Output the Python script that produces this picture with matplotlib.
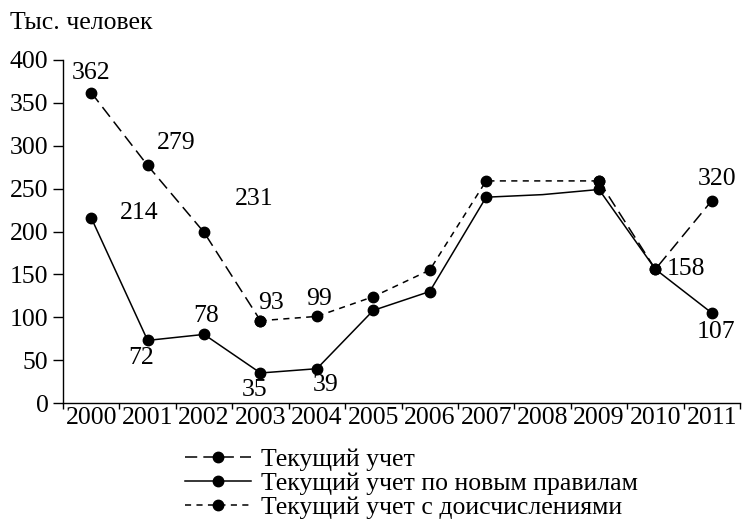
import numpy as np
import matplotlib
matplotlib.use("Agg")
import matplotlib.pyplot as plt
from matplotlib.lines import Line2D

plt.rcParams['font.family'] = ['Liberation Serif', 'DejaVu Serif']
plt.rcParams['font.size'] = 18

years = ['2000', '2001', '2002', '2003', '2004', '2005',
         '2006', '2007', '2008', '2009', '2010', '2011']
nan = np.nan
# Текущий учет
current = [362, 277, 199, 96, nan, nan, nan, nan, nan, 259, 156, 236]
# Текущий учет с доисчислениями (no marker in 2008)
recalc = [nan, nan, nan, 96, 101, 124, 155, 259, 259, 259, nan, nan]
# Текущий учет по новым правилам (no marker in 2008)
new_rules = [216, 73, 80, 35, 40, 108, 130, 240, 243, 249, 156, 105]

# data labels: (year index, series, printed text)
lab_top = [(0, 'current', '362'), (1, 'current', '279'), (2, 'current', '231'),
           (3, 'recalc', '93'), (4, 'recalc', '99'), (11, 'current', '320'),
           (10, 'current', '158')]
lab_bot = [(0, 'new', '214'), (1, 'new', '72'), (2, 'new', '78'),
           (3, 'new', '35'), (4, 'new', '39'), (11, 'new', '107')]
offsets = {('current', 0): (0, 20), ('current', 1): (29, 22), ('current', 2): (50, 33),
           ('recalc', 3): (11, 18), ('recalc', 4): (2, 17), ('current', 11): (5, 22),
           ('current', 10): (31, 0),
           ('new', 0): (48, 5), ('new', 1): (-6, -18), ('new', 2): (2, 18),
           ('new', 3): (-6, -17), ('new', 4): (9, -16), ('new', 11): (4, -19)}

series = {'current': current, 'recalc': recalc, 'new': new_rules}

fig = plt.figure(figsize=(7.45, 5.22), dpi=100)
ax = fig.add_axes([63/745, 1-403/522, 677/745, 343/522])

x = np.arange(len(years))
long_dash = (0, (8, 4))
short_dash = (0, (4, 3.5))
lw = 1.1
ms = 7.5

ax.plot(x, current, color='black', lw=lw, linestyle=long_dash)
ax.plot(x, recalc, color='black', lw=lw, linestyle=short_dash)
ax.plot(x, new_rules, color='black', lw=lw, linestyle='-')

mark_idx = [i for i in range(len(years)) if years[i] != '2008']
for vals in (current, recalc, new_rules):
    ax.plot(x[mark_idx], np.array(vals, dtype=float)[mark_idx], 'o',
            color='black', ms=ms, linestyle='none')

for i, key, txt in lab_top + lab_bot:
    dx, dy = offsets[(key, i)]
    ax.annotate(txt, (x[i], series[key][i]), xytext=(dx * 0.72, dy * 0.72),
                textcoords='offset points', ha='center', va='center', fontsize=18.5)

ax.set_xlim(-0.5, len(years) - 0.5)
ax.set_ylim(0, 400)
ax.set_yticks(range(0, 401, 50))
ax.set_xticks(x)
ax.set_xticklabels(years)
ax.set_xticks(np.arange(-0.5, len(years), 1), minor=True)
ax.tick_params(axis='both', which='major', labelsize=18.5)
ax.tick_params(axis='x', which='major', length=0, pad=3)
ax.tick_params(axis='x', which='minor', length=4.5, width=1, direction='out')
ax.tick_params(axis='y', length=7, width=1, direction='out', pad=3.5)
ax.spines['top'].set_visible(False)
ax.spines['right'].set_visible(False)
ax.spines['left'].set_linewidth(1)
ax.spines['bottom'].set_linewidth(1)

fig.text(10/745, 1-23/522, 'Тыс. человек', ha='left', va='center', fontsize=18.5)

handles = [
    Line2D([], [], color='black', lw=lw, linestyle=long_dash, marker='o', ms=ms),
    Line2D([], [], color='black', lw=lw, linestyle='-', marker='o', ms=ms),
    Line2D([], [], color='black', lw=lw, linestyle=short_dash, marker='o', ms=ms),
]
names = ['Текущий учет', 'Текущий учет по новым правилам', 'Текущий учет с доисчислениями']
fig.legend(handles, names, loc='upper left', bbox_to_anchor=(185/745, 1-448/522),
           frameon=False, borderpad=0, borderaxespad=0, handlelength=2.55,
           handletextpad=0.4, labelspacing=0.04, fontsize=18.5)

fig.savefig('out.png', dpi=100)
